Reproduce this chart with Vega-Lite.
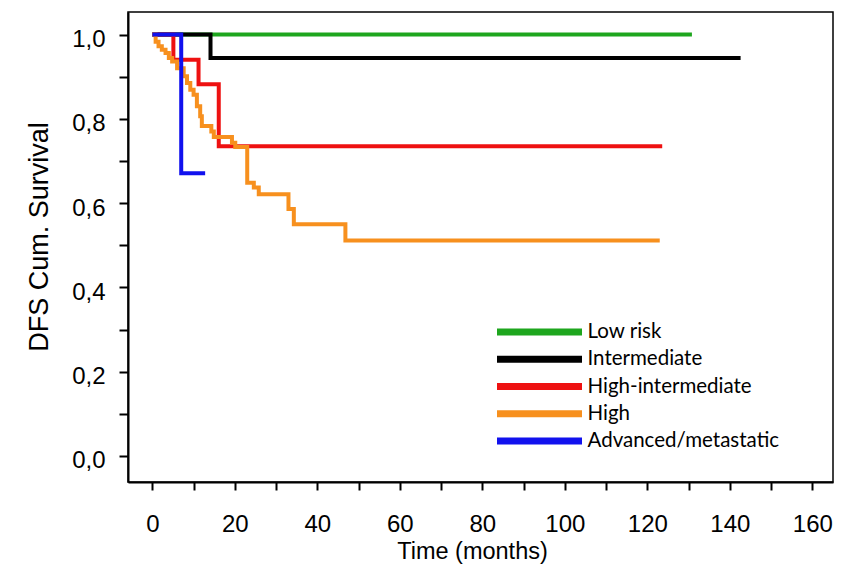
{
  "$schema": "https://vega.github.io/schema/vega-lite/v6.json",
  "width": 705,
  "height": 470,
  "autosize": {"type": "none"},
  "padding": {"left": 128, "top": 12, "right": 13, "bottom": 87},
  "background": "white",
  "config": {
    "view": {"stroke": "black", "strokeWidth": 1.5},
    "font": "Liberation Sans"
  },
  "data": {
    "values": [
      {"group": "Low risk", "t": 0, "s": 1.0},
      {"group": "Low risk", "t": 130.8, "s": 1.0},
      {"group": "Intermediate", "t": 0, "s": 1.0},
      {"group": "Intermediate", "t": 14.1, "s": 0.944},
      {"group": "Intermediate", "t": 142.6, "s": 0.944},
      {"group": "High-intermediate", "t": 0, "s": 1.0},
      {"group": "High-intermediate", "t": 5.1, "s": 0.94},
      {"group": "High-intermediate", "t": 11.2, "s": 0.882},
      {"group": "High-intermediate", "t": 16.1, "s": 0.735},
      {"group": "High-intermediate", "t": 123.6, "s": 0.735},
      {"group": "High", "t": 0, "s": 1.0},
      {"group": "High", "t": 0.8, "s": 0.983},
      {"group": "High", "t": 1.5, "s": 0.972},
      {"group": "High", "t": 2.3, "s": 0.964},
      {"group": "High", "t": 3.2, "s": 0.956},
      {"group": "High", "t": 4.0, "s": 0.944},
      {"group": "High", "t": 4.8, "s": 0.936},
      {"group": "High", "t": 6.0, "s": 0.92},
      {"group": "High", "t": 7.6, "s": 0.901},
      {"group": "High", "t": 8.4, "s": 0.885},
      {"group": "High", "t": 9.2, "s": 0.869},
      {"group": "High", "t": 10.0, "s": 0.857},
      {"group": "High", "t": 10.8, "s": 0.83},
      {"group": "High", "t": 11.6, "s": 0.806},
      {"group": "High", "t": 12.0, "s": 0.783},
      {"group": "High", "t": 14.3, "s": 0.77},
      {"group": "High", "t": 14.9, "s": 0.757},
      {"group": "High", "t": 19.3, "s": 0.743},
      {"group": "High", "t": 20.1, "s": 0.733},
      {"group": "High", "t": 23.0, "s": 0.648},
      {"group": "High", "t": 24.6, "s": 0.637},
      {"group": "High", "t": 25.8, "s": 0.621},
      {"group": "High", "t": 33.0, "s": 0.586},
      {"group": "High", "t": 34.3, "s": 0.55},
      {"group": "High", "t": 46.8, "s": 0.511},
      {"group": "High", "t": 123.0, "s": 0.511},
      {"group": "Advanced/metastatic", "t": 0, "s": 1.0},
      {"group": "Advanced/metastatic", "t": 7.0, "s": 0.671},
      {"group": "Advanced/metastatic", "t": 12.8, "s": 0.671}
    ]
  },
  "mark": {"type": "line", "interpolate": "step-after", "strokeWidth": 4, "clip": true},
  "encoding": {
    "x": {
      "field": "t",
      "type": "quantitative",
      "scale": {"domain": [-5.9, 165], "nice": false, "zero": false},
      "axis": {
        "values": [0, 10, 20, 30, 40, 50, 60, 70, 80, 90, 100, 110, 120, 130, 140, 150, 160],
        "labelExpr": "datum.value % 20 === 0 ? datum.label : ''",
        "title": "Time (months)",
        "titleFontSize": 23.5,
        "titleFontWeight": "normal",
        "titleColor": "black",
        "titleBaseline": "alphabetic",
        "titleY": 76,
        "titleX": 344,
        "labelFontSize": 24,
        "labelColor": "black",
        "labelBaseline": "alphabetic",
        "labelPadding": 41,
        "labelFlush": false,
        "labelOverlap": false,
        "tickSize": 8,
        "tickWidth": 2,
        "tickColor": "black",
        "domainColor": "black",
        "domainWidth": 2,
        "grid": false
      }
    },
    "y": {
      "field": "s",
      "type": "quantitative",
      "scale": {"domain": [-0.0617, 1.0534], "nice": false, "zero": false},
      "axis": {
        "values": [0, 0.1, 0.2, 0.3, 0.4, 0.5, 0.6, 0.7, 0.8, 0.9, 1.0],
        "labelExpr": "round(datum.value*10) % 2 === 0 ? replace(format(datum.value, '.1f'), '.', ',') : ''",
        "title": "DFS Cum. Survival",
        "titleFontSize": 27,
        "titleFontWeight": "normal",
        "titleColor": "black",
        "titleBaseline": "alphabetic",
        "titleX": -81,
        "titleY": 224.5,
        "labelFontSize": 24,
        "labelColor": "black",
        "labelBaseline": "alphabetic",
        "labelOffset": 12,
        "labelPadding": 14,
        "labelFlush": false,
        "labelOverlap": false,
        "tickSize": 9,
        "tickWidth": 2,
        "tickColor": "black",
        "domainColor": "black",
        "domainWidth": 2,
        "grid": false
      }
    },
    "color": {
      "field": "group",
      "type": "nominal",
      "scale": {
        "domain": ["Low risk", "Intermediate", "High-intermediate", "High", "Advanced/metastatic"],
        "range": ["#1ea61e", "#000000", "#ee1111", "#f7901e", "#1111ee"]
      },
      "legend": {
        "orient": "none",
        "legendX": 365.5,
        "legendY": 310,
        "title": null,
        "symbolType": "stroke",
        "symbolSize": 7225,
        "symbolStrokeWidth": 7,
        "clipHeight": 20,
        "rowPadding": 6.25,
        "labelOffset": 2,
        "labelFont": "Lato",
        "labelFontSize": 20.5,
        "labelLimit": 400,
        "labelColor": "black",
        "padding": 0,
        "symbolOffset": 0
      }
    }
  }
}
